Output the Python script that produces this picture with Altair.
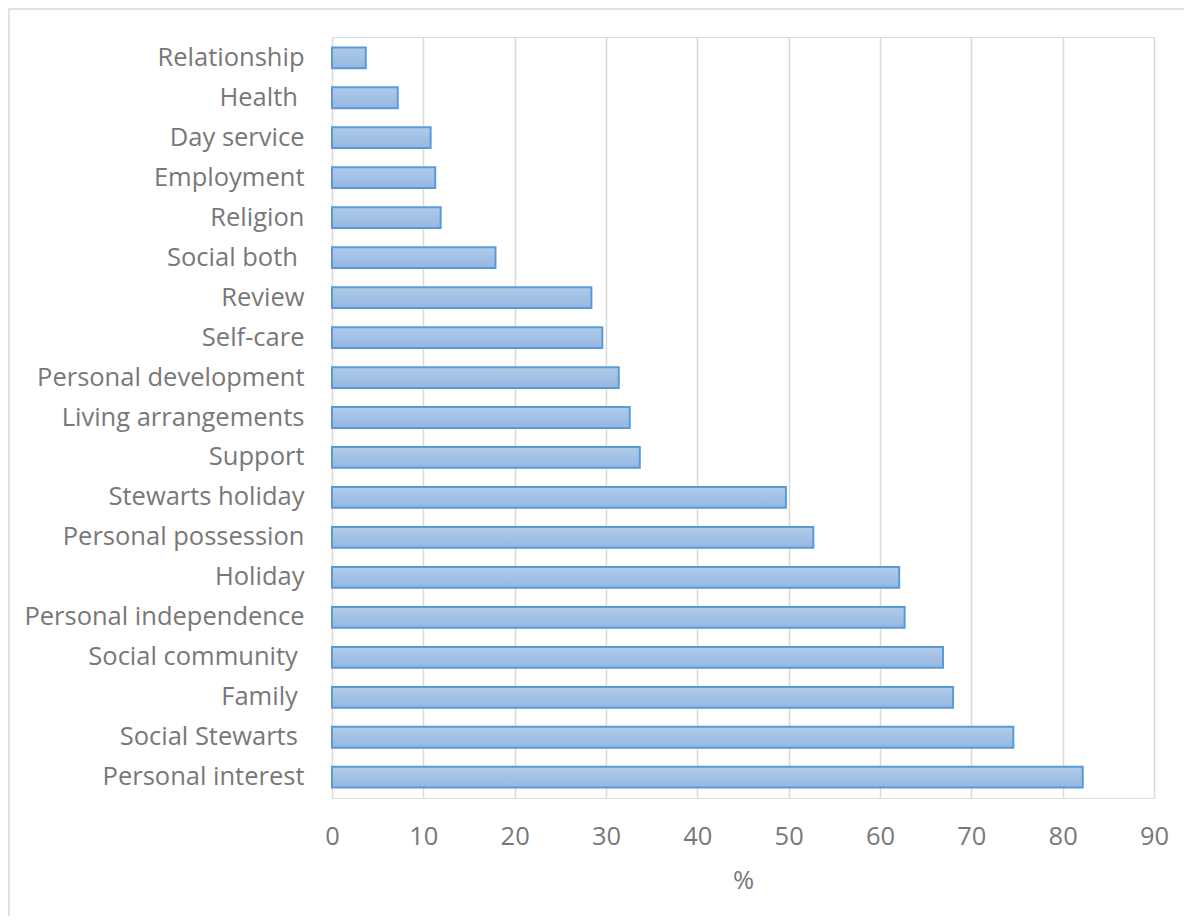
import altair as alt
import pandas as pd

categories = ["Relationship", "Health ", "Day service", "Employment", "Religion", "Social both ",
              "Review", "Self-care", "Personal development", "Living arrangements", "Support",
              "Stewarts holiday", "Personal possession", "Holiday", "Personal independence",
              "Social community ", "Family ", "Social Stewarts ", "Personal interest"]
values = [3.7, 7.2, 10.8, 11.3, 11.9, 17.9, 28.4, 29.6, 31.4, 32.6, 33.7,
          49.7, 52.7, 62.1, 62.7, 66.9, 68.0, 74.6, 82.2]
x_ticks = [0, 10, 20, 30, 40, 50, 60, 70, 80, 90]

df = pd.DataFrame({"category": categories, "value": values})

FONT = "Open Sans"
FS = 25.5
TXT = "#787878"
W, H = 822, 761

bars = alt.Chart(df).mark_bar(
    fill=alt.Gradient(
        gradient="linear", x1=0, x2=0, y1=0, y2=1,
        stops=[alt.GradientStop(color="#b1cbe9", offset=0),
               alt.GradientStop(color="#94b7e1", offset=1)],
    ),
    stroke="#5b9bd5", strokeWidth=2,
).encode(
    x=alt.X("value:Q", scale=alt.Scale(domain=[0, 90], nice=False),
            axis=alt.Axis(values=x_ticks, title="%", grid=True, gridColor="#d9d9d9",
                          gridWidth=1.5, domain=False, ticks=False, labelPadding=26,
                          labelFlush=False,
                          labelFontSize=FS, labelColor=TXT, labelFont=FONT,
                          titleFont=FONT, titleFontSize=FS, titleColor=TXT,
                          titleFontWeight="normal", titlePadding=19)),
    y=alt.Y("category:N", sort=categories,
            scale=alt.Scale(paddingInner=0.48, paddingOuter=0.26),
            axis=alt.Axis(title=None, domain=False, ticks=False, labelPadding=28,
                          labelFontSize=FS, labelColor=TXT, labelFont=FONT,
                          labelExpr="test(regexp(' $'), datum.value) ? replace(datum.value, regexp(' $'), '\u00a0\u200b') : datum.label",
                          labelLimit=400)),
)

border = alt.Chart(alt.Data(values=[{}])).mark_rect(
    fill=None, stroke="#d9d9d9", strokeWidth=1.5
).encode(
    x=alt.value(-323), x2=alt.value(900), y=alt.value(-28), y2=alt.value(950)
)

chart = alt.layer(border, bars).properties(
    width=W, height=H,
    autosize=alt.AutoSizeParams(type="none"),
    padding={"left": 324, "top": 29, "right": 30, "bottom": 118},
).configure_view(stroke=None).configure(background="white")

chart.save("out.html", embed_options={"renderer": "svg", "actions": False})
